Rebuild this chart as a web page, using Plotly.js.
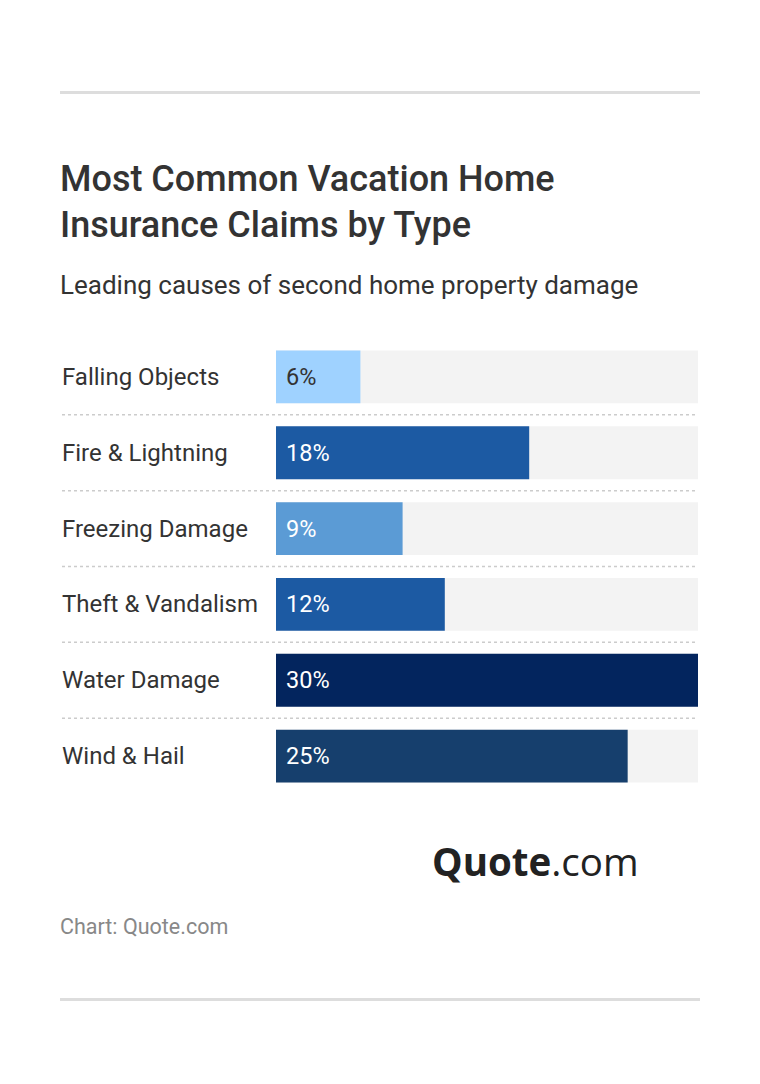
<!DOCTYPE html>
<html>
<head>
<meta charset="utf-8">
<script src="https://cdn.plot.ly/plotly-3.0.1.min.js"></script>
<style>
html,body{margin:0;padding:0;background:#fff;}
#chart{width:760px;height:1084px;}
</style>
</head>
<body>
<div id="chart"></div>
<script>
const categories = ["Falling Objects","Fire & Lightning","Freezing Damage","Theft & Vandalism","Water Damage","Wind & Hail"];
const values = [6, 18, 9, 12, 30, 25];
const valueLabels = ["6%","18%","9%","12%","30%","25%"];
const barColors = ["#9fd2ff","#1c5aa3","#5b9bd5","#1c5aa3","#03255e","#163f6d"];
const labelColors = ["#333333","#ffffff","#ffffff","#ffffff","#ffffff","#ffffff"];
const maxValue = 30;

const W = 760, H = 1084;
const L = 276, R = 62, T = 338.5, B = 289.5;
const PW = W - L - R, PH = H - T - B;
const px = v => (v - L) / PW;
const py = v => (T + PH - v) / PH;

const font = "Roboto, 'Open Sans', sans-serif";

const traces = [
  {
    type: "bar", orientation: "h",
    y: categories, x: categories.map(() => maxValue),
    marker: {color: "#f3f3f3"}, width: 53/76,
    hoverinfo: "skip", showlegend: false
  },
  {
    type: "bar", orientation: "h",
    y: categories, x: values,
    marker: {color: barColors}, width: 53/76,
    hoverinfo: "skip", showlegend: false
  }
];

const annotations = [];
categories.forEach((c, i) => {
  annotations.push({
    xref: "paper", yref: "y", x: px(60), y: c, xanchor: "left", yanchor: "middle",
    text: c, showarrow: false, font: {family: font, size: 24, color: "#333333"}
  });
  annotations.push({
    xref: "x", yref: "y", x: 0, y: c, xanchor: "left", yanchor: "middle", xshift: 8,
    text: valueLabels[i], showarrow: false, font: {family: font, size: 23.5, color: labelColors[i]}
  });
});

annotations.push(
  {xref:"paper", yref:"paper", x: px(58), y: py(178), xanchor:"left", yanchor:"middle",
   text:"Most Common Vacation Home", showarrow:false, font:{family:font, size:36, color:"#333333", weight:500}},
  {xref:"paper", yref:"paper", x: px(58), y: py(224), xanchor:"left", yanchor:"middle",
   text:"Insurance Claims by Type", showarrow:false, font:{family:font, size:36, color:"#333333", weight:500}},
  {xref:"paper", yref:"paper", x: px(58), y: py(284), xanchor:"left", yanchor:"middle",
   text:"Leading causes of second home property damage", showarrow:false, font:{family:font, size:26, color:"#333333"}},
  {xref:"paper", yref:"paper", x: px(430), y: py(862), xanchor:"left", yanchor:"middle",
   text:"<b>Quote</b>.com", showarrow:false, font:{family:"'Open Sans', Lato, sans-serif", size:38.5, color:"#222222"}},
  {xref:"paper", yref:"paper", x: px(58), y: py(927), xanchor:"left", yanchor:"middle",
   text:"Chart: Quote.com", showarrow:false, font:{family:font, size:21.5, color:"#888888"}}
);

const shapes = [
  {type:"rect", xref:"paper", yref:"paper", x0:px(60), x1:px(700), y0:py(90), y1:py(93),
   fillcolor:"#dddddd", line:{width:0}},
  {type:"rect", xref:"paper", yref:"paper", x0:px(60), x1:px(700), y0:py(999), y1:py(1002),
   fillcolor:"#dddddd", line:{width:0}}
];
for (let i = 0; i < categories.length - 1; i++) {
  shapes.push({type:"line", xref:"paper", yref:"y", x0:px(62), x1:px(698), y0:i+0.5, y1:i+0.5,
    line:{color:"#cccccc", width:1.5, dash:"dot"}});
}

const layout = {
  width: W, height: H,
  margin: {l: L, r: R, t: T, b: B, pad: 0},
  paper_bgcolor: "#ffffff", plot_bgcolor: "#ffffff",
  barmode: "overlay",
  xaxis: {range: [0, maxValue], visible: false, fixedrange: true},
  yaxis: {type: "category", autorange: "reversed", visible: false, fixedrange: true,
          range: [categories.length - 0.5, -0.5]},
  showlegend: false,
  annotations: annotations,
  shapes: shapes
};

Plotly.newPlot("chart", traces, layout, {displayModeBar: false, staticPlot: true});
</script>
</body>
</html>
